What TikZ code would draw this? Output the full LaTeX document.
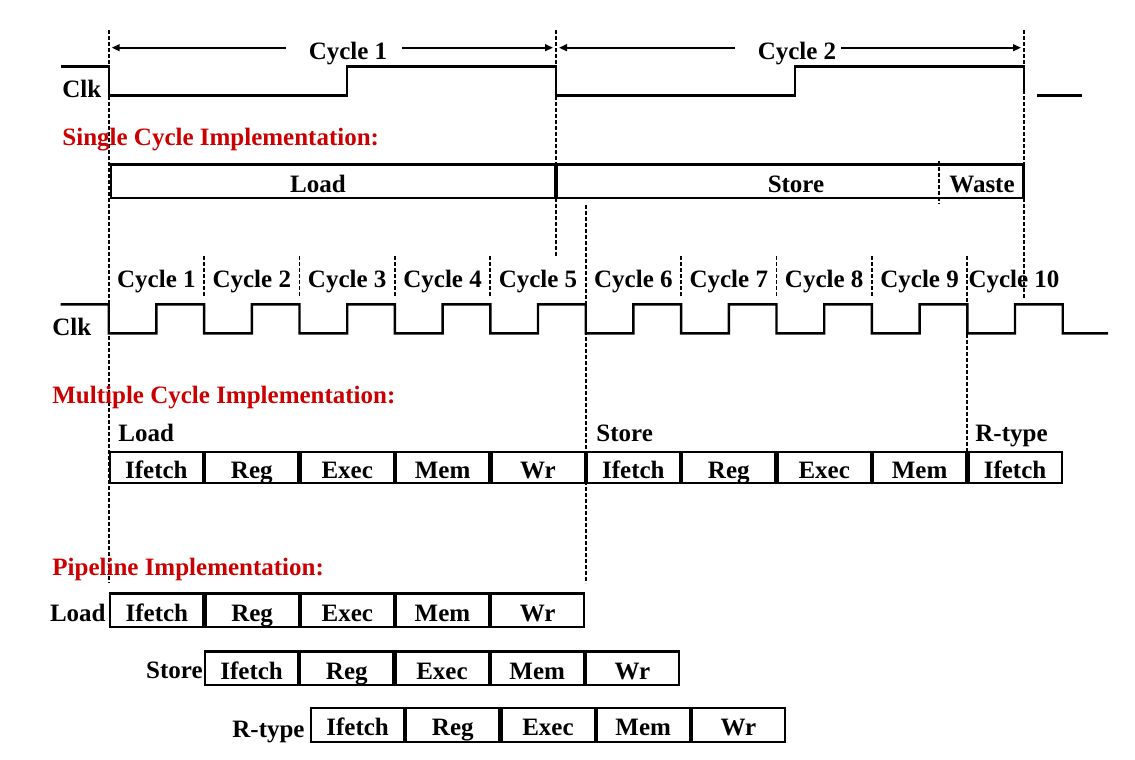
\documentclass[tikz,border=0pt]{standalone}
\usepackage{fontspec}
\setmainfont{Liberation Serif}
\usetikzlibrary{arrows.meta}
\definecolor{titlered}{RGB}{204,0,0}

\begin{document}
\begin{tikzpicture}[x=0.5pt,y=-0.5pt,
  every node/.style={font=\fontsize{12.5}{15}\selectfont\bfseries, inner sep=0pt},
  txt/.style={anchor=base west},
  txtc/.style={anchor=base},
  txte/.style={anchor=base east},
  title/.style={anchor=base west, text=titlered},
  wave/.style={line width=1.2pt, line join=miter},
  guide/.style={line width=0.9pt, dash pattern=on 2pt off 1pt},
  span/.style={line width=1.1pt, -{Triangle[length=4pt,width=3.4pt]}},
  bar/.style={draw, line width=1.1pt, minimum height=16.6pt},
  stage/.style={draw, line width=1.1pt, minimum width=46.6pt, minimum height=15.6pt,
                text height=10.7pt, text depth=0pt},
  pstage/.style={stage, minimum height=16.9pt},
]
\useasboundingbox[fill=white] (0,0) rectangle (1135,760);

% ---------- timing guides ----------
\draw[guide] (108.7,30) -- (108.7,583);
\draw[guide] (556,30) -- (556,257);
\draw[guide] (1024,30) -- (1024,298);
\draw[guide] (585.7,205) -- (585.7,583);
\draw[guide] (967.3,256) -- (967.3,451);
\foreach \k in {1,2,3,4,6,7,8}
  \draw[guide] ({108.7+95.4*\k},256) -- ({108.7+95.4*\k},298);

% ---------- slow clock ----------
\node[txt] (clkA) at (62,97.7) {Clk};
\draw[wave] (60.7,66.3) -- (108.7,66.3) -- (108.7,95.3) -- (347,95.3) -- (347,66.3)
  -- (556,66.3) -- (556,95.3) -- (795,95.3) -- (795,66.3) -- (1024,66.3) -- (1024,93);
\draw[wave] (1037,95.3) -- (1082,95.3);

% cycle spans
\node[txtc, fill=white] (cyc1) at (348,59) {Cycle 1};
\node[txtc, fill=white] (cyc2) at (797,59) {Cycle 2};
\coordinate (c1a) at (111.7,47.7);
\coordinate (c1b) at (286,47.7);
\coordinate (c1c) at (402,47.7);
\coordinate (c1d) at (553,47.7);
\coordinate (c2a) at (559,47.7);
\coordinate (c2b) at (735,47.7);
\coordinate (c2c) at (841,47.7);
\coordinate (c2d) at (1021,47.7);
\draw[span] (c1b) -- (c1a);
\draw[span] (c1c) -- (c1d);
\draw[span] (c2b) -- (c2a);
\draw[span] (c2c) -- (c2d);

% ---------- single cycle ----------
\node[title] (tSingle) at (62,145) {Single Cycle Implementation:};
\node[bar, minimum width=222.15pt] (sLoad) at (332.75,181) {};
\node[bar, minimum width=233.15pt] (sStore) at (790.25,181) {};
\draw[guide] (939,160.7) -- (939,203);
\node[txtc] (lLoad) at (318,192) {Load};
\node[txtc] (lStore) at (796,192) {Store};
\node[txtc] (lWaste) at (982,192) {Waste};

% ---------- fast clock ----------
\foreach \k in {1,...,9}
  \node[txtc] (mc\k) at ({156.4+95.4*(\k-1)},287) {Cycle \k};
\node[txtc] (mc10) at (1014,287) {Cycle 10};
\node[txt] (clkB) at (52,335.3) {Clk};
\draw[wave] (60.7,304.3) -- (108.7,304.3)
  \foreach \k in {0,...,9} {
    -- ({108.7+95.4*\k},333.3) -- ({156.4+95.4*\k},333.3)
    -- ({156.4+95.4*\k},304.3) -- ({204.1+95.4*\k},304.3)
  }
  -- (1062.7,333.3) -- (1108,333.3);

% ---------- multiple cycle ----------
\node[title] (tMulti) at (52,403) {Multiple Cycle Implementation:};
\node[txt] (mLoad) at (118,441) {Load};
\node[txt] (mStore) at (596,441) {Store};
\node[txt] (mRtype) at (975,441) {R-type};
\foreach \s [count=\i from 0] in {Ifetch,Reg,Exec,Mem,Wr,Ifetch,Reg,Exec,Mem,Ifetch}
  \node[stage] (ms\i) at ({156.4+95.4*\i},467.6) {\s};

% ---------- pipeline ----------
\node[title] (tPipe) at (52,575) {Pipeline Implementation:};
\node[txte] (pLoad) at (106,621) {Load};
\node[txte] (pStore) at (203,678) {Store};
\node[txte] (pRtype) at (305,737) {R-type};
\foreach \s [count=\i from 0] in {Ifetch,Reg,Exec,Mem,Wr} {
  \node[pstage] (pa\i) at ({156.9+95.2*\i},610.3) {\s};
  \node[pstage] (pb\i) at ({251.6+95.2*\i},668.4) {\s};
  \node[pstage] (pc\i) at ({357.6+95.2*\i},724.7) {\s};
}
\end{tikzpicture}
\end{document}
